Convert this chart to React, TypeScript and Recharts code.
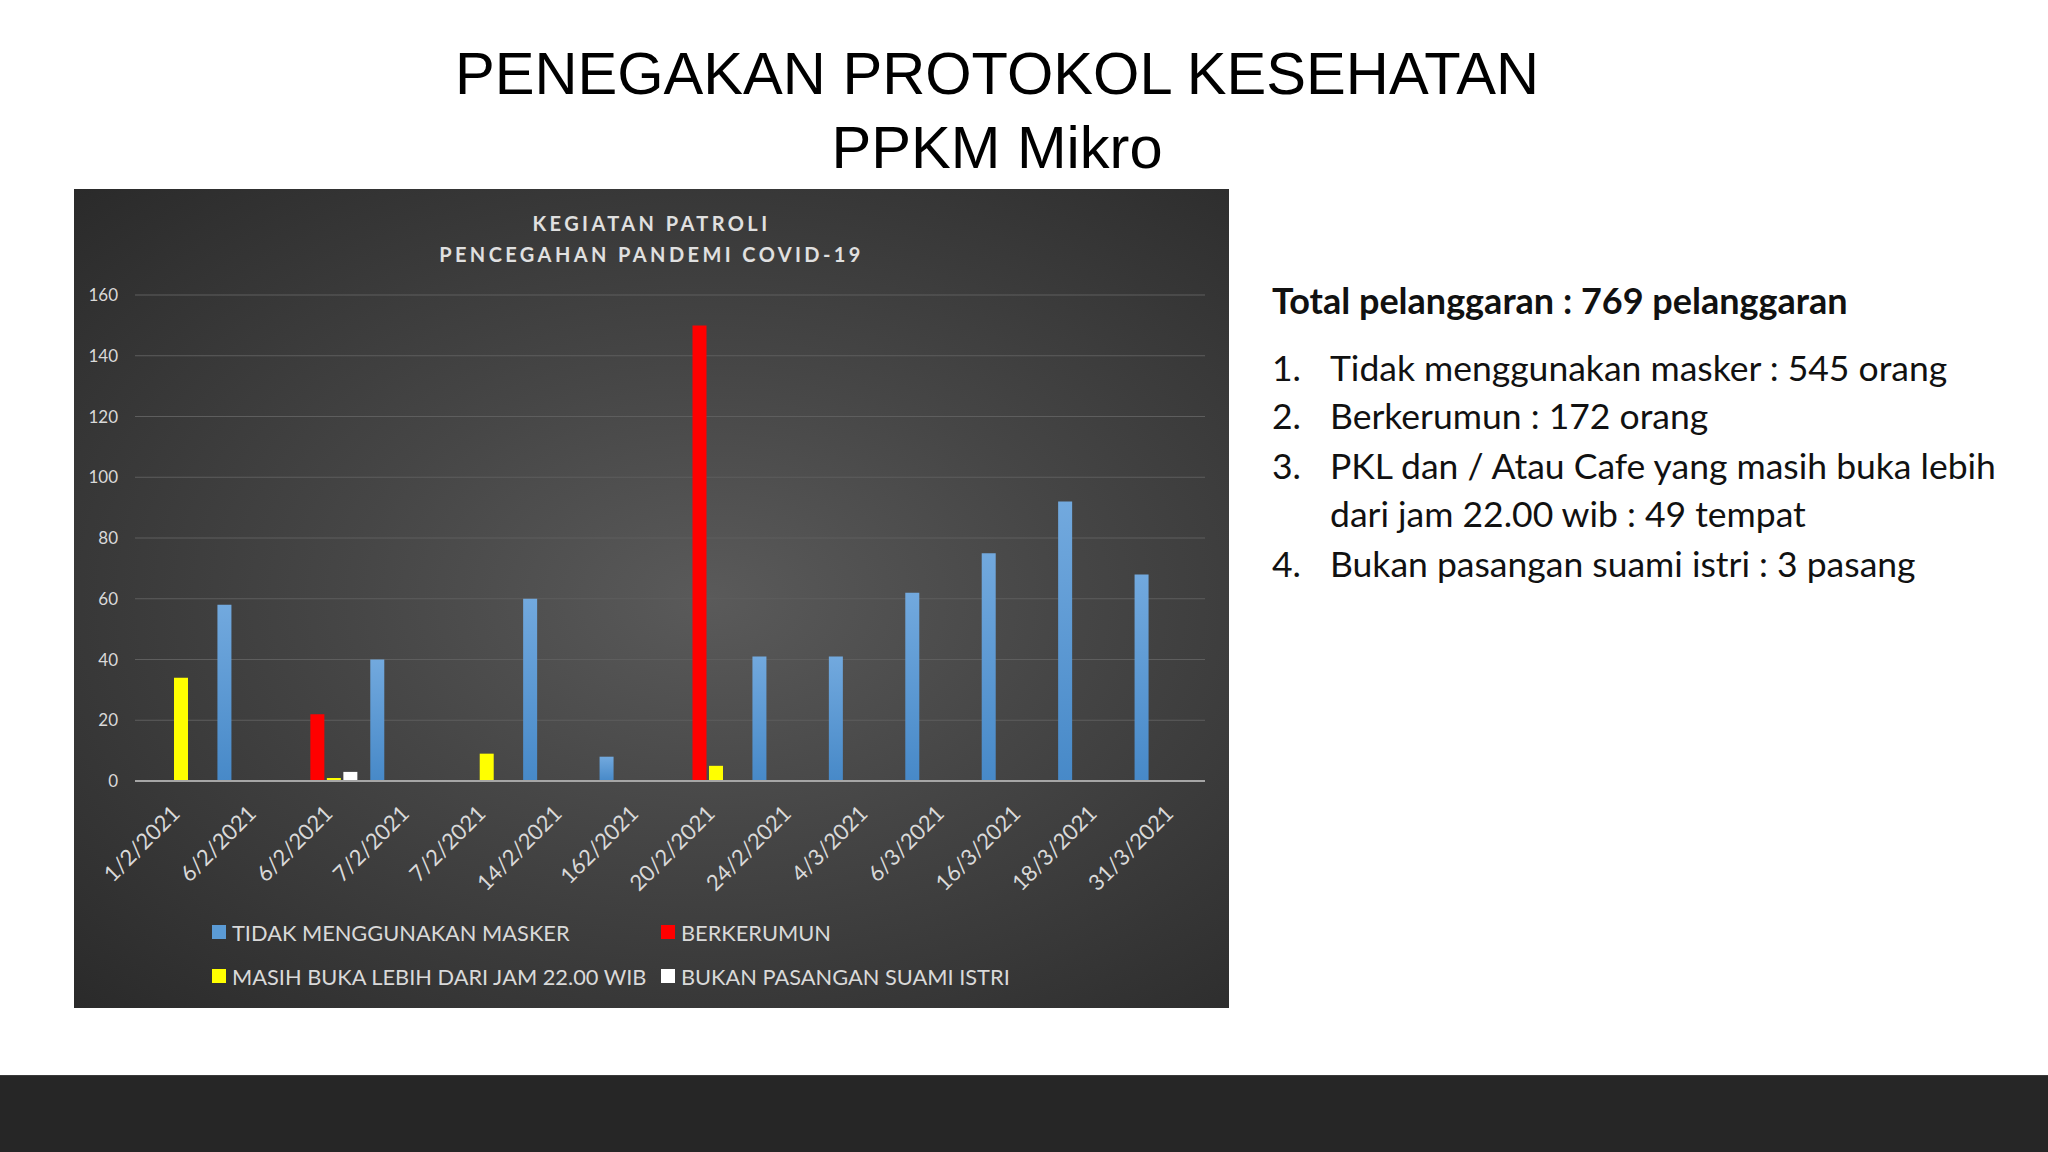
import { Bar, BarChart, CartesianGrid, Legend, XAxis, YAxis } from "recharts";

// data
const tanggal = [
  "1/2/2021",
  "6/2/2021",
  "6/2/2021",
  "7/2/2021",
  "7/2/2021",
  "14/2/2021",
  "162/2021",
  "20/2/2021",
  "24/2/2021",
  "4/3/2021",
  "6/3/2021",
  "16/3/2021",
  "18/3/2021",
  "31/3/2021",
];
const tidakMasker = [0, 58, 0, 40, 0, 60, 8, 0, 41, 41, 62, 75, 92, 68];
const berkerumun = [0, 0, 22, 0, 0, 0, 0, 150, 0, 0, 0, 0, 0, 0];
const bukaMalam = [34, 0, 1, 0, 9, 0, 0, 5, 0, 0, 0, 0, 0, 0];
const bukanPasangan = [0, 0, 3, 0, 0, 0, 0, 0, 0, 0, 0, 0, 0, 0];
const yTicks = [0, 20, 40, 60, 80, 100, 120, 140, 160];

const seriesInfo = [
  { key: "masker", label: "TIDAK MENGGUNAKAN MASKER", color: "#5b9bd5", fill: "url(#blueGrad)" },
  { key: "kerumun", label: "BERKERUMUN", color: "#ff0000", fill: "#ff0000" },
  { key: "buka", label: "MASIH BUKA LEBIH DARI JAM 22.00 WIB", color: "#ffff00", fill: "#ffff00" },
  { key: "pasangan", label: "BUKAN PASANGAN SUAMI ISTRI", color: "#ffffff", fill: "#ffffff" },
];

const rows = tanggal.map((t, i) => ({
  tanggal: t,
  masker: tidakMasker[i],
  kerumun: berkerumun[i],
  buka: bukaMalam[i],
  pasangan: bukanPasangan[i],
}));

const sideFont = "Lato, 'Open Sans', sans-serif";

const DateTick = (props: any) => {
  const { x, y, payload } = props;
  return (
    <g transform={`translate(${x + 8},${y + 26})`}>
      <text
        transform="rotate(-45)"
        textAnchor="end"
        fill="#d9d9d9"
        fontSize={22}
        fontFamily={sideFont}
      >
        {payload.value}
      </text>
    </g>
  );
};

const LegendBox = () => (
  <div
    style={{
      display: "grid",
      gridTemplateColumns: "449px auto",
      gridAutoRows: "44px",
      fontFamily: sideFont,
      fontSize: 21.8,
      color: "#d9d9d9",
    }}
  >
    {seriesInfo.map((s) => (
      <div key={s.key} style={{ display: "flex", alignItems: "center", whiteSpace: "nowrap" }}>
        <span
          style={{
            width: 14,
            height: 14,
            flexShrink: 0,
            background: s.color,
            marginRight: 6,
            display: "inline-block",
          }}
        />
        {s.label}
      </div>
    ))}
  </div>
);

const Panel = () => (
  <div
    style={{
      position: "absolute",
      left: 74,
      top: 189,
      width: 1155,
      height: 819,
      background:
        "radial-gradient(ellipse farthest-corner at 55% 50%, #5a5a5a 0%, #464646 40%, #2a2a2a 100%)",
    }}
  >
    <div
      style={{
        position: "absolute",
        top: 19,
        left: 0,
        width: 1155,
        textAlign: "center",
        color: "#e0e0e0",
        fontFamily: sideFont,
        fontWeight: 700,
        fontSize: 20,
        letterSpacing: 3.4,
        lineHeight: "31px",
      }}
    >
      <div>KEGIATAN PATROLI</div>
      <div>PENCEGAHAN PANDEMI COVID-19</div>
    </div>
    <div style={{ position: "absolute", left: 0, top: 0 }}>
      <BarChart
        width={1155}
        height={819}
        data={rows}
        margin={{ top: 106, right: 24, bottom: 127, left: 0 }}
        barSize={14}
        barGap={2.5}
      >
        <defs>
          <linearGradient id="blueGrad" x1="0" y1="0" x2="0" y2="1">
            <stop offset="0%" stopColor="#72a9de" />
            <stop offset="100%" stopColor="#4789c8" />
          </linearGradient>
        </defs>
        <CartesianGrid vertical={false} stroke="#5e5e5e" strokeWidth={1} />
        <XAxis
          dataKey="tanggal"
          height={100}
          interval={0}
          tick={<DateTick />}
          tickLine={false}
          axisLine={{ stroke: "#a6a6a6", strokeWidth: 2 }}
        />
        <YAxis
          width={61}
          domain={[0, 160]}
          ticks={yTicks}
          axisLine={false}
          tickLine={false}
          tickMargin={11}
          tick={{ fill: "#d9d9d9", fontSize: 17, fontFamily: sideFont }}
        />
        {seriesInfo.map((s) => (
          <Bar key={s.key} dataKey={s.key} name={s.label} fill={s.fill} isAnimationActive={false} />
        ))}
        <Legend
          layout="horizontal"
          verticalAlign="middle"
          align="center"
          content={<LegendBox />}
          wrapperStyle={{ left: 138, top: 721, width: 900 }}
        />
      </BarChart>
    </div>
  </div>
);

const SideText = () => {
  const line = (top: number, num: string, text: string) => (
    <div style={{ position: "absolute", left: 0, top, whiteSpace: "nowrap" }}>
      <span style={{ display: "inline-block", width: 58 }}>{num}</span>
      {text}
    </div>
  );
  return (
    <div
      style={{
        position: "absolute",
        left: 1272,
        top: 0,
        fontFamily: sideFont,
        fontSize: 35.5,
        lineHeight: "49px",
        color: "#111",
      }}
    >
      <div
        style={{
          position: "absolute",
          left: 0,
          top: 276,
          fontSize: 36,
          fontWeight: 700,
          whiteSpace: "nowrap",
        }}
      >
        Total pelanggaran : 769 pelanggaran
      </div>
      {line(343, "1.", "Tidak menggunakan masker : 545 orang")}
      {line(391, "2.", "Berkerumun : 172 orang")}
      {line(441, "3.", "PKL dan / Atau Cafe yang masih buka lebih")}
      {line(489, "", "dari jam 22.00 wib : 49 tempat")}
      {line(539, "4.", "Bukan pasangan suami istri : 3 pasang")}
    </div>
  );
};

export default function App() {
  return (
    <div
      style={{
        position: "absolute",
        left: 0,
        top: 0,
        width: 2048,
        height: 1152,
        background: "#ffffff",
        overflow: "hidden",
      }}
    >
      <div
        style={{
          position: "absolute",
          left: 0,
          top: 37,
          width: 1994,
          textAlign: "center",
          fontFamily: "'Liberation Sans', Arial, sans-serif",
          fontSize: 59.6,
          lineHeight: "74px",
          color: "#000",
        }}
      >
        <div>PENEGAKAN PROTOKOL KESEHATAN</div>
        <div>PPKM Mikro</div>
      </div>
      <Panel />
      <SideText />
      <div
        style={{
          position: "absolute",
          left: 0,
          top: 1075,
          width: 2048,
          height: 77,
          background: "#262626",
          borderTop: "1px solid #3a3a3a",
        }}
      />
    </div>
  );
}
